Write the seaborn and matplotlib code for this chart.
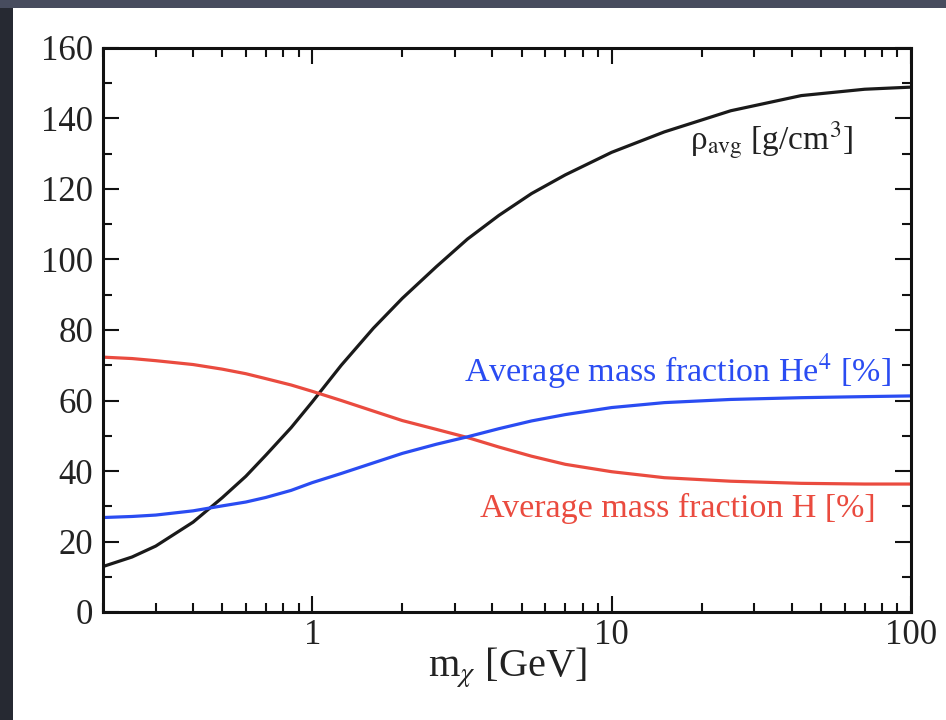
import numpy as np
import pandas as pd
import matplotlib
matplotlib.use("Agg")
import matplotlib.pyplot as plt
from matplotlib.patches import Rectangle
from matplotlib.ticker import FixedLocator, FixedFormatter, LogLocator, MultipleLocator, NullFormatter
import seaborn as sns

# WIMP mass (GeV)
m_chi = [0.2, 0.25, 0.3, 0.4, 0.5, 0.6, 0.7, 0.85, 1.0, 1.25, 1.6, 2.0, 2.6, 3.3,
         4.2, 5.4, 7.0, 10.0, 15.0, 25.0, 43.0, 70.0, 100.0]
# average density [g/cm^3]
rho_avg = [12.9, 15.6, 18.7, 25.5, 32.4, 38.5, 44.5, 52.3, 59.6, 70.0, 80.5, 89.0,
           98.0, 105.8, 112.5, 118.7, 124.0, 130.4, 136.2, 142.2, 146.5, 148.3, 148.9]
# average mass fraction of hydrogen [%]
frac_H = [72.3, 71.9, 71.3, 70.2, 68.9, 67.6, 66.2, 64.4, 62.6, 60.0, 57.0, 54.3,
          51.8, 49.5, 46.8, 44.2, 41.9, 39.8, 38.1, 37.1, 36.5, 36.3, 36.3]
# average mass fraction of helium-4 [%]
frac_He4 = [26.8, 27.1, 27.5, 28.7, 30.1, 31.2, 32.5, 34.5, 36.7, 39.3, 42.3, 45.0,
            47.6, 49.7, 52.0, 54.2, 56.0, 58.0, 59.4, 60.3, 60.8, 61.1, 61.3]

x_ticks = [1, 10, 100]
x_ticklabels = ["1", "10", "100"]
y_ticks = [0, 20, 40, 60, 80, 100, 120, 140, 160]

sns.set_theme(style="ticks")
plt.rcParams["font.family"] = ["Liberation Serif", "DejaVu Serif"]
plt.rcParams["mathtext.fontset"] = "stix"

W, H = 946, 720
fig = plt.figure(figsize=(W / 100, H / 100), dpi=100, facecolor="#262932")
# slide-style white card behind the plot
fig.patches.append(Rectangle((13 / W, 0), 1 - 13 / W, (H - 8) / H, transform=fig.transFigure,
                             facecolor="white", edgecolor="none", zorder=-10))
fig.patches.append(Rectangle((0, (H - 8) / H), 1, 8 / H, transform=fig.transFigure,
                             facecolor="#474c5e", edgecolor="none", zorder=-10))

ax = fig.add_axes([103 / W, 1 - 612 / H, (911 - 103) / W, (612 - 48) / H])
ax.set_facecolor("white")

df = pd.DataFrame({"m": m_chi, "rho": rho_avg, "H": frac_H, "He4": frac_He4})
lw = 2.3
sns.lineplot(data=df, x="m", y="rho", ax=ax, color="#1a1a1a", lw=lw)
sns.lineplot(data=df, x="m", y="H", ax=ax, color="#ea4b3f", lw=lw)
sns.lineplot(data=df, x="m", y="He4", ax=ax, color="#2a4cf2", lw=lw)

ax.set_xscale("log")
ax.set_xlim(0.2, 100)
ax.set_ylim(0, 160)

ax.xaxis.set_major_locator(FixedLocator(x_ticks))
ax.xaxis.set_major_formatter(FixedFormatter(x_ticklabels))
ax.xaxis.set_minor_locator(LogLocator(base=10, subs=np.arange(2, 10)))
ax.xaxis.set_minor_formatter(NullFormatter())
ax.yaxis.set_major_locator(FixedLocator(y_ticks))
ax.yaxis.set_minor_locator(MultipleLocator(10))

ax.tick_params(which="both", direction="in", top=True, right=True, width=1.5,
               color="#111111", labelsize=25, labelcolor="#222222")
ax.tick_params(which="major", length=11.5)
ax.tick_params(axis="y", which="major", pad=7)
ax.tick_params(axis="x", which="major", pad=5)
ax.tick_params(which="minor", length=6.5)
for s in ax.spines.values():
    s.set_linewidth(2.2)
    s.set_color("#111111")

ax.set_xlabel(r"m$_\chi$ [GeV]", fontsize=29, color="#222222", labelpad=-5)
ax.set_ylabel("")

ax.text(18.3, 131, r"ρ$_{\mathrm{avg}}$ [g/cm$^3$]", fontsize=24, color="#222222",
        ha="left", va="baseline")
ax.text(85.7, 65.2, r"Average mass fraction He$^4$ [%]", fontsize=24.5, color="#2a4cf2",
        ha="right", va="baseline")
ax.text(76.4, 27.0, "Average mass fraction H [%]", fontsize=24.5, color="#ea4b3f",
        ha="right", va="baseline")

fig.savefig("out.png", dpi=100, facecolor=fig.get_facecolor())
